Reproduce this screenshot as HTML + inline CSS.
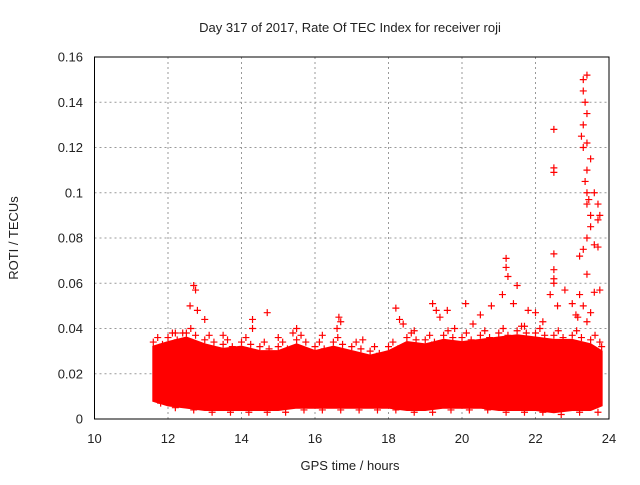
<!DOCTYPE html>
<html><head><meta charset="utf-8"><style>
body{margin:0;background:#fff}
svg text{font-family:"Liberation Sans",sans-serif;font-size:13px;fill:#222}
</style></head><body>
<svg id="chart" width="640" height="480"></svg>
<script>
const xTicks=[10,12,14,16,18,20,22,24];
const yTicks=[0,0.02,0.04,0.06,0.08,0.1,0.12,0.14,0.16];
const yTickLabels=["0","0.02","0.04","0.06","0.08","0.1","0.12","0.14","0.16"];
const bandHours=[11.6,12,12.5,13,13.5,14,14.5,15,15.5,16,16.5,17,17.5,18,18.5,19,19.5,20,20.5,21,21.5,22,22.5,23,23.5,23.8];
const bandLow=[0.008,0.006,0.005,0.004,0.004,0.004,0.004,0.004,0.005,0.005,0.005,0.005,0.005,0.005,0.004,0.004,0.005,0.005,0.005,0.004,0.004,0.004,0.003,0.004,0.004,0.006];
const bandHigh=[0.032,0.034,0.036,0.033,0.031,0.032,0.03,0.03,0.033,0.03,0.032,0.03,0.028,0.03,0.034,0.033,0.035,0.034,0.035,0.036,0.037,0.036,0.035,0.035,0.033,0.03];
const outHours=[12.7,12.75,12.6,12.8,12.4,13.0,14.3,14.7,14.3,15.5,15.4,16.65,16.7,16.6,18.2,18.3,18.4,19.2,19.3,19.6,19.4,20.1,20.5,20.8,21.2,21.2,21.25,21.5,21.1,21.4,21.8,22.0,22.5,22.5,22.5,22.5,22.5,22.5,22.5,22.4,22.6,22.8,23.0,23.1,23.3,23.4,23.3,23.35,23.4,23.3,23.25,23.4,23.3,23.5,23.4,23.35,23.4,23.45,23.4,23.5,23.6,23.7,23.75,23.7,23.5,23.4,23.3,23.2,23.6,23.7,23.75,23.6,23.4,23.2,23.3,23.5,23.15,23.4,13.5,15.0,17.3,19.8,12.2,16.2,18.7,20.3,21.7,22.2];
const outValues=[0.059,0.057,0.05,0.048,0.038,0.044,0.044,0.047,0.04,0.04,0.038,0.045,0.043,0.04,0.049,0.044,0.042,0.051,0.048,0.048,0.045,0.051,0.046,0.05,0.071,0.067,0.063,0.059,0.055,0.051,0.048,0.047,0.128,0.111,0.109,0.073,0.066,0.062,0.06,0.055,0.05,0.057,0.051,0.046,0.15,0.152,0.145,0.14,0.135,0.13,0.125,0.122,0.12,0.115,0.11,0.105,0.1,0.097,0.095,0.09,0.1,0.095,0.09,0.088,0.085,0.08,0.075,0.072,0.077,0.076,0.057,0.056,0.064,0.055,0.05,0.047,0.045,0.043,0.037,0.036,0.035,0.04,0.038,0.037,0.039,0.042,0.041,0.043];
const svg=document.getElementById('chart');
const NS='http://www.w3.org/2000/svg';
const L=94.5,R=609,T=57,B=419;
const xs=h=>L+(h-10)/14*(R-L);
const ys=v=>B-v/0.16*(B-T);
function mk(t,a){const e=document.createElementNS(NS,t);for(const k in a)e.setAttribute(k,a[k]);svg.appendChild(e);return e;}
xTicks.forEach((t,i)=>{
 if(i>0&&i<xTicks.length-1){const g=mk('line',{x1:xs(t),x2:xs(t),y1:T,y2:B,stroke:'#999','stroke-dasharray':'2,3'});
 
 }
 const tx=mk('text',{x:xs(t),y:443,'text-anchor':'middle'});tx.textContent=t;
 
 
});
yTicks.forEach((t,i)=>{
 if(i>0&&i<yTicks.length-1){const g=mk('line',{x1:L,x2:R,y1:ys(t),y2:ys(t),stroke:'#999','stroke-dasharray':'2,3'});
 
 }
 const tx=mk('text',{x:83,y:ys(t)+4.5,'text-anchor':'end'});tx.textContent=yTickLabels[i];
 
 
});
let pts=bandHours.map((h,i)=>xs(h)+','+ys(bandHigh[i]));
pts=pts.concat(bandHours.map((h,i)=>xs(h)+','+ys(bandLow[i])).reverse());
const band=mk('polygon',{points:pts.join(' '),fill:'#ff0000',stroke:'#ff0000','stroke-width':2});


function plus(h,v){const x=xs(h),y=ys(v);
 const p=mk('path',{d:`M${x-3.5},${y}h7M${x},${y-3.5}v7`,stroke:'#ff0000','stroke-width':1.2});
 
 }
bandHours.forEach((h,i)=>{
 plus(h,bandHigh[i]+0.002);
 if(i<bandHours.length-1){plus(h+0.2,bandLow[i]-0.001);plus(h+0.25,bandHigh[i]+0.001);plus(h+0.12,bandHigh[i]+0.004);}
});
outHours.forEach((h,i)=>plus(h,outValues[i]));
const fr=mk('rect',{x:L,y:T,width:R-L,height:B-T,fill:'none',stroke:'#000','stroke-width':1});


const ti=mk('text',{x:350,y:32,'text-anchor':'middle'});ti.textContent='Day 317 of 2017, Rate Of TEC Index for receiver roji';


const xl=mk('text',{x:350,y:470,'text-anchor':'middle'});xl.textContent='GPS time / hours';


const yl=mk('text',{x:18,y:238,'text-anchor':'middle',transform:'rotate(-90 18 238)'});yl.textContent='ROTI / TECUs';


</script>
</body></html>
